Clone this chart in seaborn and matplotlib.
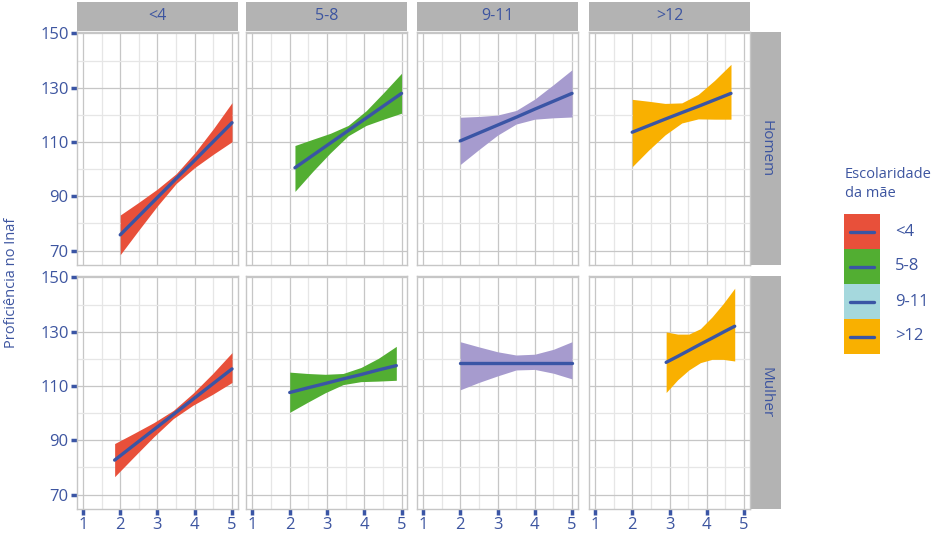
import matplotlib
matplotlib.use("Agg")
import matplotlib.pyplot as plt
from matplotlib.patches import Rectangle
from matplotlib.lines import Line2D
import pandas as pd
import seaborn as sns

# Categorias das facetas
escolaridade = ["<4", "5-8", "9-11", ">12"]
sexo = ["Homem", "Mulher"]

# Cores das faixas de confiança e da legenda
cores_faixa = ["#E8503A", "#52AE32", "#A69BCE", "#F9B000"]
cores_legenda = ["#E8503A", "#52AE32", "#A5D8DD", "#F9B000"]
cor_linha = "#3A55A5"
cor_texto = "#3D55A0"

# Homem: pontos em x, reta ajustada e limites do intervalo de confiança
x_homem = [
    [2.0, 2.5, 3.0, 3.5, 4.0, 4.5, 5.0],
    [2.14, 2.62, 3.09, 3.57, 4.05, 4.52, 5.0],
    [2.0, 2.5, 3.0, 3.5, 4.0, 4.5, 5.0],
    [2.0, 2.44, 2.88, 3.33, 3.77, 4.21, 4.65],
]
ajuste_homem = [
    [75.8, 82.7, 89.6, 96.5, 103.3, 110.2, 117.1],
    [100.5, 105.1, 109.6, 114.2, 118.8, 123.3, 127.9],
    [110.4, 113.3, 116.2, 119.1, 122.1, 125.0, 127.9],
    [113.6, 116.0, 118.4, 120.8, 123.1, 125.5, 127.9],
]
inf_homem = [
    [68.5, 77.6, 86.5, 94.7, 100.6, 105.5, 110.1],
    [91.8, 99.2, 106.0, 112.3, 116.1, 118.4, 120.6],
    [101.7, 107.2, 112.5, 116.6, 118.4, 118.9, 119.2],
    [100.9, 107.0, 112.6, 117.0, 118.5, 118.4, 118.4],
]
sup_homem = [
    [83.1, 87.8, 92.7, 98.3, 106.0, 114.9, 124.5],
    [108.7, 111.0, 113.2, 116.1, 121.5, 128.2, 135.3],
    [119.1, 119.4, 119.9, 121.6, 125.8, 131.1, 136.6],
    [125.7, 125.0, 124.2, 124.4, 127.5, 132.7, 138.6],
]

# Mulher: pontos em x, reta ajustada e limites do intervalo de confiança
x_mulher = [
    [1.85, 2.375, 2.9, 3.425, 3.95, 4.475, 5.0],
    [2.0, 2.48, 2.95, 3.43, 3.91, 4.38, 4.86],
    [2.0, 2.5, 3.0, 3.5, 4.0, 4.5, 5.0],
    [2.91, 3.22, 3.52, 3.83, 4.14, 4.44, 4.75],
]
ajuste_mulher = [
    [82.7, 88.3, 93.9, 99.5, 105.1, 110.7, 116.3],
    [107.6, 109.3, 110.9, 112.6, 114.2, 115.9, 117.5],
    [118.6, 118.6, 118.6, 118.6, 118.6, 118.6, 118.6],
    [118.7, 120.9, 123.1, 125.4, 127.6, 129.8, 132.0],
]
inf_mulher = [
    [76.6, 84.0, 91.3, 98.0, 102.9, 106.9, 111.3],
    [100.3, 104.0, 107.5, 110.5, 111.6, 111.8, 112.1],
    [108.6, 111.3, 113.7, 115.9, 116.1, 114.7, 112.6],
    [107.6, 112.3, 115.9, 118.6, 119.8, 119.8, 119.2],
]
sup_mulher = [
    [88.8, 92.6, 96.5, 101.0, 107.3, 114.5, 122.3],
    [115.1, 114.6, 114.3, 114.6, 116.8, 120.2, 124.6],
    [126.3, 124.4, 122.6, 121.4, 121.7, 123.5, 126.3],
    [129.9, 129.1, 129.1, 131.1, 135.4, 140.3, 146.0],
]

x_ticks = [1, 2, 3, 4, 5]
y_ticks = [70, 90, 110, 130, 150]

# Tabela longa para o FacetGrid
linhas = []
for s, xs, fs, ls, us in [
    ("Homem", x_homem, ajuste_homem, inf_homem, sup_homem),
    ("Mulher", x_mulher, ajuste_mulher, inf_mulher, sup_mulher),
]:
    for i, esc in enumerate(escolaridade):
        for xv, fv, lv, uv in zip(xs[i], fs[i], ls[i], us[i]):
            linhas.append({"sexo": s, "esc": esc, "x": xv,
                           "ajuste": fv, "inf": lv, "sup": uv})
df = pd.DataFrame(linhas)

sns.set_style("white")
plt.rcParams["font.family"] = ["Open Sans", "DejaVu Sans"]

W, H = 935, 538
g = sns.FacetGrid(df, row="sexo", col="esc", row_order=sexo,
                  col_order=escolaridade, sharex=True, sharey=True,
                  height=2.33, aspect=161 / 233, despine=False)


def desenha(data, **kws):
    ax = plt.gca()
    cor = cores_faixa[escolaridade.index(data["esc"].iloc[0])]
    ax.fill_between(data["x"], data["inf"], data["sup"], color=cor,
                    lw=0, zorder=2)
    sns.lineplot(data=data, x="x", y="ajuste", ax=ax, color=cor_linha,
                 lw=2.4, zorder=3, estimator=None, sort=True)


g.map_dataframe(desenha)
g.set_titles("")
g.set_axis_labels("", "")

fig = g.figure
fig.set_size_inches(W / 100, H / 100)

col_left = [77, 246.5, 417, 589]
row_top = [32, 276]
pw, ph = 161, 233

for r, s in enumerate(sexo):
    for c, esc in enumerate(escolaridade):
        ax = g.axes[r, c]
        ax.set_position([col_left[c] / W, (H - row_top[r] - ph) / H,
                         pw / W, ph / H])
        ax.set_xlim(0.84, 5.16)
        ax.set_ylim(64.7, 150.5)
        ax.set_xticks(x_ticks)
        ax.set_yticks(y_ticks)
        ax.set_xticks([1.5, 2.5, 3.5, 4.5], minor=True)
        ax.set_yticks([80, 100, 120, 140], minor=True)
        ax.set_facecolor("white")
        ax.grid(which="major", color="#C6C6C6", lw=0.9)
        ax.grid(which="minor", color="#E6E6E6", lw=0.9)
        ax.set_axisbelow(True)
        for sp in ax.spines.values():
            sp.set_color("#C6C6C6")
            sp.set_linewidth(1.0)
        ax.tick_params(which="major", length=4, width=2.5, color=cor_linha,
                       labelcolor=cor_texto, labelsize=12, pad=2)
        ax.tick_params(which="minor", length=0)
        ax.tick_params(axis="x", bottom=(r == 1), labelbottom=(r == 1))
        ax.tick_params(axis="y", left=(c == 0), labelleft=(c == 0))
        ax.set_xlabel("")
        ax.set_ylabel("")

        # faixa cinza com o rótulo da coluna
        if r == 0:
            ax.add_patch(Rectangle((0, 1 + 1 / ph), 1, 29 / ph,
                                   transform=ax.transAxes, clip_on=False,
                                   fc="#B3B3B3", ec="none"))
            ax.text(0.5, 1 + 15.5 / ph, esc, transform=ax.transAxes,
                    ha="center", va="center", color=cor_texto, fontsize=11.5)
        # faixa cinza com o rótulo da linha
        if c == 3:
            ax.add_patch(Rectangle((1 + 1 / pw, 0), 30 / pw, 1,
                                   transform=ax.transAxes, clip_on=False,
                                   fc="#B3B3B3", ec="none"))
            ax.text(1 + 16 / pw, 0.5, s, transform=ax.transAxes,
                    ha="center", va="center", rotation=-90,
                    color=cor_texto, fontsize=11)

fig.text(12 / W, 1 - 283 / H, "Proficiência no Inaf", rotation=90,
         ha="center", va="center", color=cor_texto, fontsize=10.5)

# Legenda
fig.text(845 / W, 1 - 184 / H, "Escolaridade\nda mãe", ha="left",
         va="center", color=cor_texto, fontsize=10.5, linespacing=1.35)
for i, esc in enumerate(escolaridade):
    top = 214 + 35 * i
    fig.add_artist(Rectangle((844 / W, 1 - (top + 35) / H), 36 / W, 35 / H,
                             transform=fig.transFigure, fc=cores_legenda[i],
                             ec="none"))
    yc = 1 - (top + 17.5) / H
    fig.add_artist(Line2D([850 / W, 874 / W], [yc, yc],
                          transform=fig.transFigure, color=cor_linha, lw=2.4))
    fig.text(895 / W, yc, esc, ha="left", va="center", color=cor_texto,
             fontsize=12)

fig.savefig("out.png", dpi=100, facecolor="white")
